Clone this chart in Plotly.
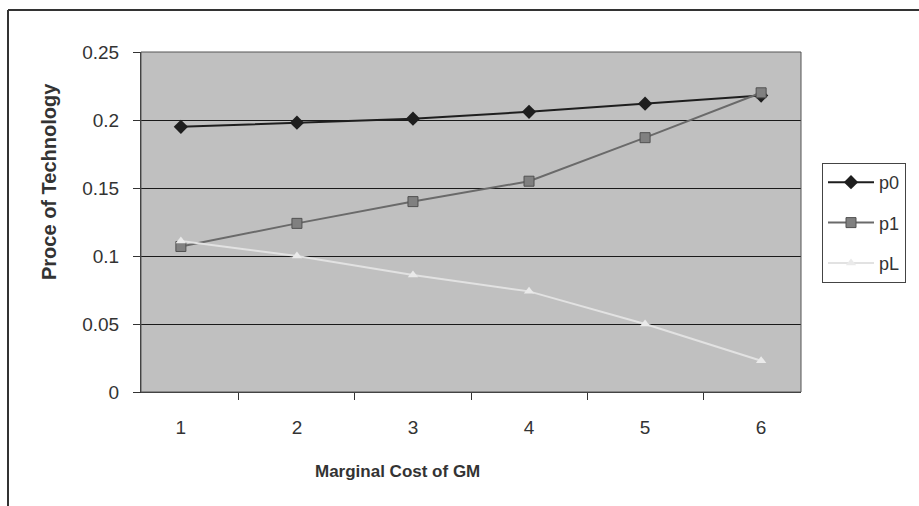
import plotly.graph_objects as go

categories = ["1", "2", "3", "4", "5", "6"]
p0 = [0.195, 0.198, 0.201, 0.206, 0.212, 0.218]
p1 = [0.107, 0.124, 0.14, 0.155, 0.187, 0.22]
pL = [0.111, 0.100, 0.086, 0.074, 0.050, 0.023]
y_ticks = [0, 0.05, 0.1, 0.15, 0.2, 0.25]
y_labels = ["0", "0.05", "0.1", "0.15", "0.2", "0.25"]

fig = go.Figure()
fig.add_trace(go.Scatter(x=categories, y=p0, name="p0", mode="lines+markers", legendgroup="a",
                         line=dict(color="#1e1e1e", width=2),
                         marker=dict(symbol="diamond", size=11, color="#1e1e1e")))
fig.add_trace(go.Scatter(x=categories, y=p1, name="p1", mode="lines+markers", legendgroup="b",
                         line=dict(color="#6a6a6a", width=2),
                         marker=dict(symbol="square", size=10, color="#808080",
                                     line=dict(color="#505050", width=1))))
fig.add_trace(go.Scatter(x=categories, y=pL, name="pL", mode="lines+markers", legendgroup="c",
                         line=dict(color="#e2e2e2", width=2),
                         marker=dict(symbol="triangle-up", size=9, color="#eaeaea")))

W, H = 919, 506
L, R, T, B = 141, 118, 52, 114
pw, ph = W - L - R, H - T - B

def px(x):
    return (x - L) / pw

def py(y):
    return (H - B - y) / ph

FONT = "Arial, Liberation Sans, sans-serif"

fig.update_layout(
    width=W, height=H,
    margin=dict(l=L, r=R, t=T, b=B),
    paper_bgcolor="white",
    plot_bgcolor="#c0c0c0",
    font=dict(family=FONT, size=19, color="#333333"),
    showlegend=True,
    legend=dict(x=px(822), y=py(163), xanchor="left", yanchor="top",
                bordercolor="#444444", borderwidth=1, bgcolor="white",
                font=dict(size=18, color="#333333"), tracegroupgap=14,
                traceorder="grouped", itemwidth=46),
    xaxis=dict(
        type="category", tickson="boundaries", ticks="outside", ticklen=7,
        tickcolor="#333333", showline=True, linecolor="#333333", linewidth=1,
        showgrid=False, mirror=False, ticklabelstandoff=18,
        tickfont=dict(size=19, color="#333333"),
    ),
    yaxis=dict(
        range=[0, 0.25], tickvals=y_ticks, ticktext=y_labels,
        ticks="outside", ticklen=7, tickcolor="#333333",
        showline=True, linecolor="#333333", linewidth=1,
        showgrid=True, gridcolor="#1a1a1a", gridwidth=1,
        zeroline=False, ticklabelstandoff=10,
        tickfont=dict(size=19, color="#333333"),
    ),
    annotations=[
        dict(text="<b>Marginal Cost of GM</b>", xref="paper", yref="paper",
             x=px(397), y=py(471), xanchor="center", yanchor="middle", showarrow=False,
             font=dict(family=FONT, size=17, color="#333333")),
        dict(text="<b>Proce of Technology</b>", xref="paper", yref="paper",
             x=px(49), y=py(182), xanchor="center", yanchor="middle", showarrow=False,
             textangle=-90, font=dict(family=FONT, size=20, color="#333333")),
    ],
    shapes=[
        dict(type="rect", xref="paper", yref="paper", x0=0, x1=1, y0=0, y1=1,
             line=dict(color="#555555", width=1)),
        dict(type="line", xref="paper", yref="paper", x0=px(8), x1=px(8), y0=py(10), y1=py(506),
             line=dict(color="#333333", width=2)),
        dict(type="line", xref="paper", yref="paper", x0=px(8), x1=px(919), y0=py(10), y1=py(10),
             line=dict(color="#333333", width=2)),
    ],
)

fig.write_html("out.html")
